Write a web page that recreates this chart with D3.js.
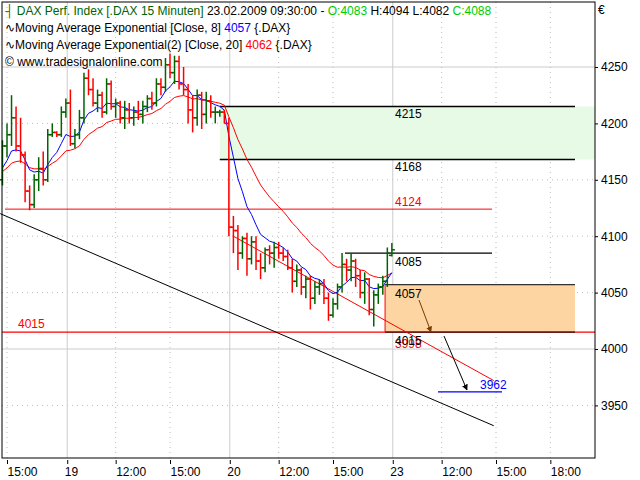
<!DOCTYPE html>
<html><head><meta charset="utf-8">
<script src="https://cdn.jsdelivr.net/npm/d3@7"></script>
<style>body{margin:0;background:#fff}text{font-family:"Liberation Sans",Arial,sans-serif;font-size:12px}</style>
</head><body><svg id="c" width="640" height="480"></svg>
<script>
// OHLC bars (15 min), slot = index - 1
const opens =  [4150,4180,4190,4205,4180,4172,4140,4128,4150,4160,4150,4190,4192,
 4190,4210,4218,4182,4190,4205,4240,4230,4218,4225,4210,4235,4215,4218,4205,4212,4205,4210,4208,4215,4222,4218,4235,4232,4252,4245,4255,4235,4230,4212,4205,4225,4208,4220,4210,4210,
 4210,4200,4108,4105,4085,4098,4080,4095,4078,4072,4088,4085,4090,4085,4082,4072,4060,4070,4055,4062,4045,4055,4058,4045,4030,4040,4055,4075,4070,4078,4065,4050,4062,4035,4048,
 4055,4060,4083];
const highs =  [4185,4200,4225,4215,4205,4175,4145,4155,4170,4175,4195,4200,4193,
 4215,4222,4230,4195,4212,4245,4248,4240,4230,4228,4240,4238,4222,4220,4220,4218,4215,4220,4220,4225,4228,4240,4240,4258,4262,4260,4260,4250,4235,4225,4230,4228,4228,4225,4215,4212,
 4212,4205,4118,4110,4100,4103,4100,4100,4085,4090,4092,4095,4095,4090,4088,4080,4075,4072,4065,4065,4060,4062,4062,4050,4045,4058,4085,4080,4085,4080,4070,4068,4063,4052,4058,
 4065,4090,4094];
const lows =   [4145,4170,4180,4175,4165,4130,4123,4125,4140,4145,4148,4188,4188,
 4188,4205,4180,4178,4186,4200,4225,4215,4210,4205,4208,4212,4205,4200,4195,4200,4198,4203,4200,4210,4212,4215,4225,4228,4240,4235,4230,4225,4200,4192,4198,4195,4200,4205,4200,4206,
 4200,4100,4085,4070,4080,4065,4075,4070,4062,4068,4075,4072,4080,4078,4070,4050,4055,4048,4045,4035,4040,4048,4040,4025,4028,4035,4050,4060,4060,4055,4045,4040,4030,4020,4040,
 4048,4055,4082];
const closes = [4180,4190,4205,4180,4172,4140,4128,4150,4160,4150,4190,4192,4190,
 4210,4218,4182,4190,4205,4240,4230,4218,4225,4210,4235,4215,4218,4205,4212,4205,4210,4208,4215,4222,4218,4235,4232,4252,4245,4255,4235,4230,4212,4205,4225,4208,4220,4210,4210,4210,
 4200,4108,4105,4085,4098,4080,4095,4078,4072,4088,4085,4090,4085,4082,4072,4060,4070,4055,4062,4045,4055,4058,4045,4030,4040,4055,4075,4070,4078,4065,4050,4062,4035,4048,4055,
 4060,4085,4088];
const priceTicks = [3950,4000,4050,4100,4150,4200,4250];
const timeTickSlots = [0,13.3,24,36,49.2,60,72,85.2,96,108,120];
const timeTickLabels = ["15:00","19","12:00","15:00","20","12:00","15:00","23","12:00","15:00","18:00"];
const daySlots = [13.3,49.2,85.2];
const levels = [{v:4215,label:"4215"},{v:4168,label:"4168"}];
const redLevel = 4124, resist = 4085, orangeTop = 4057, support = 4015, target = 3962;
const channelRed = [[50,4100],[107.5,3972]];   // [slot, price]
const trendBlack = [[-1.5,4120],[107.5,3932]];

const svg = d3.select("#c");
const L=2,R=595,T=2,B=458;
const x = d3.scaleLinear().domain([0,72]).range([7,333]);
const y = d3.scaleLinear().domain([4000,4250]).range([349,67]);
const g = svg.append("g");
g.append("rect").attr("x",L).attr("y",T).attr("width",R-L).attr("height",B-T).attr("fill","#fff");
priceTicks.forEach(v=>{g.append("line").attr("x1",L).attr("x2",R).attr("y1",y(v)).attr("y2",y(v))
 .attr("stroke",v%250===0?"#ccc":"#bbb").attr("stroke-dasharray",v%250===0?null:"1,4");});
timeTickSlots.forEach(s=>{const day=daySlots.includes(s);g.append("line").attr("x1",x(s)).attr("x2",x(s)).attr("y1",T).attr("y2",B)
 .attr("stroke",day?"#ccc":"#bbb").attr("stroke-dasharray",day?null:"1,4");});
g.append("rect").attr("x",x(47)).attr("y",y(4215)).attr("width",595-x(47)).attr("height",y(4168)-y(4215)).attr("fill","#e6fae6");
g.append("rect").attr("x",x(83.5)).attr("y",y(orangeTop)).attr("width",575-x(83.5)).attr("height",y(support)-y(orangeTop)).attr("fill","#fcd5a2");
g.append("line").attr("x1",L).attr("x2",R).attr("y1",y(support)).attr("y2",y(support)).attr("stroke","#f00").attr("stroke-width",1.2);
g.append("line").attr("x1",5).attr("x2",492).attr("y1",y(redLevel)).attr("y2",y(redLevel)).attr("stroke","#f00");
levels.forEach(l=>g.append("line").attr("x1",x(47)).attr("x2",575).attr("y1",y(l.v)).attr("y2",y(l.v)).attr("stroke","#000").attr("stroke-width",1.3));
g.append("line").attr("x1",345).attr("x2",492).attr("y1",y(resist)).attr("y2",y(resist)).attr("stroke","#000").attr("stroke-width",1.3);
g.append("line").attr("x1",x(83.5)).attr("x2",575).attr("y1",y(orangeTop)).attr("y2",y(orangeTop)).attr("stroke","#000");
g.append("line").attr("x1",x(83.5)).attr("x2",575).attr("y1",y(support)).attr("y2",y(support)).attr("stroke","#000");
g.append("line").attr("x1",x(83.5)).attr("x2",x(83.5)).attr("y1",y(orangeTop)).attr("y2",y(support)).attr("stroke","#f00");
g.append("line").attr("x1",x(channelRed[0][0])).attr("y1",y(channelRed[0][1])).attr("x2",x(channelRed[1][0])).attr("y2",y(channelRed[1][1])).attr("stroke","#f00");
g.append("line").attr("x1",x(trendBlack[0][0])).attr("y1",y(trendBlack[0][1])).attr("x2",x(trendBlack[1][0])).attr("y2",y(trendBlack[1][1])).attr("stroke","#000");
g.append("line").attr("x1",438).attr("x2",502).attr("y1",y(target)).attr("y2",y(target)).attr("stroke","#00f").attr("stroke-width",1.3);
const lab=(t,xx,yy,c)=>g.append("text").attr("x",xx).attr("y",yy).attr("fill",c).text(t);
lab("4215",395,y(4215)+12,"#000");lab("4168",395,y(4168)+12,"#000");
lab(String(redLevel),395,y(redLevel)-3,"#f00");lab(String(resist),395,y(resist)+13,"#000");
lab(String(orangeTop),395,y(orangeTop)+13,"#000");
lab("3998",395,y(support)+16,"#f00");lab(String(support),395,y(support)+13,"#000");
lab(String(support),18,y(support)-4,"#f00");
lab(String(target),480,y(target)-3,"#00f");
const defs=svg.append("defs");
[["ab","#7a3a00"],["ak","#000"]].forEach(([id,c])=>defs.append("marker").attr("id",id).attr("viewBox","0 0 10 10").attr("refX",9).attr("refY",5)
 .attr("markerWidth",6).attr("markerHeight",8).attr("orient","auto").append("path").attr("d","M0,0L10,5L0,10z").attr("fill",c));
g.append("line").attr("x1",419).attr("y1",300).attr("x2",431).attr("y2",332).attr("stroke","#7a3a00").attr("marker-end","url(#ab)");
g.append("line").attr("x1",444).attr("y1",336).attr("x2",467).attr("y2",390).attr("stroke","#000").attr("marker-end","url(#ak)");
function ema(a,n){const k=2/(n+1);let e=a[0]-25;return a.map(v=>(e=v*k+e*(1-k)));}
const e8=ema(closes,8), e20=ema(closes,20);
const line=d3.line().x((d,i)=>x(i-1)).y(d=>y(d));
g.append("path").datum(e20).attr("d",line).attr("fill","none").attr("stroke","#f00");
g.append("path").datum(e8).attr("d",line).attr("fill","none").attr("stroke","#00f");
closes.forEach((c,i)=>{const xi=x(i-1),col=c>=opens[i]?"#006400":"#f00";
 g.append("line").attr("x1",xi).attr("x2",xi).attr("y1",y(highs[i])).attr("y2",y(lows[i])).attr("stroke",col).attr("stroke-width",1.5);
 g.append("line").attr("x1",xi-3).attr("x2",xi).attr("y1",y(opens[i])).attr("y2",y(opens[i])).attr("stroke",col).attr("stroke-width",1.5);
 g.append("line").attr("x1",xi).attr("x2",xi+3).attr("y1",y(c)).attr("y2",y(c)).attr("stroke",col).attr("stroke-width",1.5);});
const F="Liberation Sans";
const hdr=svg.append("text").attr("x",5).attr("y",15).style("font-family",F).style("font-size","12px");
[["┤ ","#006400"],["DAX Perf. Index [.DAX  15 Minuten] ","#006400"],["23.02.2009 09:30:00 - ","#000"],["O:4083 ","#0c0"],["H:4094 L:4082 ","#000"],["C:4088","#0c0"]]
 .forEach(([t,c])=>hdr.append("tspan").attr("fill",c).text(t));
const h2=svg.append("text").attr("x",5).attr("y",32).style("font-family",F).style("font-size","12px");
[["∿","#000"],["Moving Average Exponential [Close, 8] ","#000"],["4057","#00f"],[" {.DAX}","#000"]].forEach(([t,c])=>h2.append("tspan").attr("fill",c).text(t));
const h3=svg.append("text").attr("x",5).attr("y",49).style("font-family",F).style("font-size","12px");
[["∿","#000"],["Moving Average Exponential(2) [Close, 20] ","#000"],["4062","#f00"],[" {.DAX}","#000"]].forEach(([t,c])=>h3.append("tspan").attr("fill",c).text(t));
svg.append("text").attr("x",5).attr("y",66).style("font-family",F).style("font-size","12px").attr("fill","#000").text("© www.tradesignalonline.com");
svg.append("rect").attr("x",L).attr("y",T).attr("width",R-L).attr("height",B-T).attr("fill","none").attr("stroke","#000");
const ya=d3.axisRight(y).tickValues(priceTicks).tickSize(3).tickFormat(d3.format("d"));
svg.append("g").attr("transform",`translate(${R},0)`).call(ya).call(a=>{a.select(".domain").remove();a.selectAll("text").attr("font-size",12).attr("font-family",F);});
svg.append("text").attr("x",598).attr("y",14).text("€");
const xa=d3.axisBottom(x).tickValues(timeTickSlots).tickSize(4).tickFormat((d,i)=>timeTickLabels[i]);
svg.append("g").attr("transform",`translate(0,${B+2})`).call(xa).call(a=>{a.select(".domain").remove();a.selectAll("text").attr("font-size",12).attr("font-family",F).attr("text-anchor","start").attr("x",d=>daySlots.includes(d)?-3:0);});
</script></body></html>
